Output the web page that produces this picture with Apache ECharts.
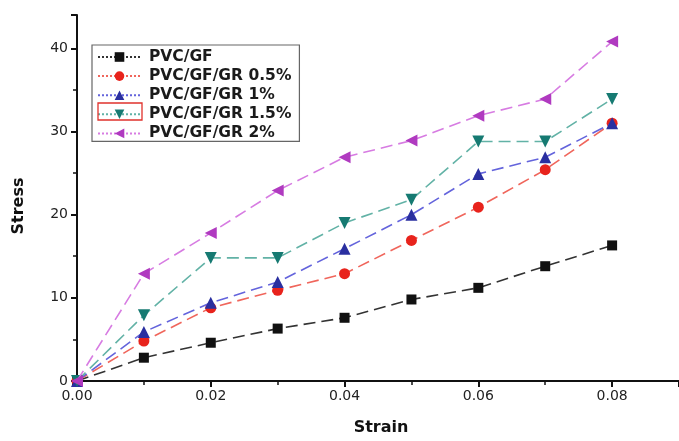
<!DOCTYPE html>
<html>
<head>
<meta charset="utf-8">
<script src="https://cdn.jsdelivr.net/npm/echarts@6/dist/echarts.min.js"></script>
<style>
  html, body { margin: 0; padding: 0; background: #fff; }
  #chart { width: 679px; height: 441px; }
</style>
</head>
<body>
<div id="chart"></div>
<script>
// Strain values (x) shared by every sample
const strain = [0, 0.01, 0.02, 0.03, 0.04, 0.05, 0.06, 0.07, 0.08];

// Stress readings per composite
const pvcGF      = [0, 2.8, 4.6, 6.3, 7.6, 9.8, 11.2, 13.8, 16.3];
const pvcGR05    = [0, 4.8, 8.8, 10.9, 12.9, 16.9, 20.9, 25.4, 31.0];
const pvcGR1     = [0, 5.9, 9.4, 11.9, 15.9, 20.0, 24.9, 26.9, 31.0];
const pvcGR15    = [0, 7.9, 14.8, 14.8, 19.0, 21.8, 28.8, 28.8, 33.9];
const pvcGR2     = [0, 12.9, 17.8, 22.9, 26.9, 28.9, 31.9, 33.9, 40.8];

const seriesNames = ['PVC/GF', 'PVC/GF/GR 0.5%', 'PVC/GF/GR 1%', 'PVC/GF/GR 1.5%', 'PVC/GF/GR 2%'];
const seriesData = [pvcGF, pvcGR05, pvcGR1, pvcGR15, pvcGR2];

const looks = [
  { mark: '#111111', line: '#333333', symbol: 'rect', size: 10, rotate: 0 },
  { mark: '#e8231c', line: '#f0665c', symbol: 'circle', size: 11, rotate: 0 },
  { mark: '#2a2fa0', line: '#6464dc', symbol: 'triangle', size: 12, rotate: 0 },
  { mark: '#167a72', line: '#62b2a6', symbol: 'triangle', size: 12, rotate: 180 },
  { mark: '#b03ac0', line: '#d77ce2', symbol: 'triangle', size: 12, rotate: 90 }
];

const pair = (ys) => strain.map((x, i) => [x, ys[i]]);

const chart = echarts.init(document.getElementById('chart'), null, { renderer: 'canvas' });

const axisFont = { fontFamily: 'DejaVu Sans', fontSize: 14, color: '#222' };
const titleFont = { fontFamily: 'DejaVu Sans', fontSize: 16, fontWeight: 'bold', color: '#111' };

chart.setOption({
  animation: false,
  backgroundColor: '#ffffff',
  grid: { left: 77, right: -5, top: 15, bottom: 60, containLabel: false },
  xAxis: {
    type: 'value',
    min: 0, max: 0.09, interval: 0.02,
    name: 'Strain', nameLocation: 'middle', nameGap: 39,
    nameTextStyle: Object.assign({ padding: [0, 0, 0, 6] }, titleFont),
    axisLine: { show: true, onZero: false, lineStyle: { color: '#111', width: 2 } },
    axisTick: { show: true, inside: false, length: 6, lineStyle: { color: '#111', width: 2 } },
    minorTick: { show: true, splitNumber: 2, length: 4, lineStyle: { color: '#111', width: 1.5 } },
    splitLine: { show: false },
    axisLabel: Object.assign({ margin: 8, showMaxLabel: false, formatter: v => v.toFixed(2) }, axisFont)
  },
  yAxis: {
    type: 'value',
    min: 0, max: 44, interval: 10,
    name: 'Stress', nameLocation: 'middle', nameGap: 50, nameRotate: 90,
    nameTextStyle: Object.assign({ padding: [0, 16, 0, 0] }, titleFont),
    axisLine: { show: true, onZero: false, lineStyle: { color: '#111', width: 2 } },
    axisTick: { show: true, inside: false, length: 6, lineStyle: { color: '#111', width: 2 } },
    minorTick: { show: true, splitNumber: 2, length: 4, lineStyle: { color: '#111', width: 1.5 } },
    splitLine: { show: false },
    axisLabel: Object.assign({ margin: 9, showMaxLabel: false }, axisFont)
  },
  legend: {
    orient: 'vertical',
    left: 92, top: 45,
    padding: [4, 8, 0, 5],
    itemWidth: 43, itemHeight: 12, itemGap: 3.1,
    borderColor: '#666', borderWidth: 1.2,
    backgroundColor: '#fff',
    lineStyle: { type: 'dotted', width: 2 },
    textStyle: { fontFamily: 'DejaVu Sans', fontSize: 15.5, fontWeight: 'bold', color: '#1a1a1a', padding: [0, 0, 0, 3] },
    data: seriesNames
  },
  series: seriesNames.map((name, i) => ({
    name: name,
    type: 'line',
    data: pair(seriesData[i]),
    symbol: looks[i].symbol,
    symbolSize: looks[i].size,
    symbolRotate: looks[i].rotate,
    showAllSymbol: true,
    itemStyle: { color: looks[i].mark },
    lineStyle: { color: looks[i].line, width: 1.6, type: [12, 6] },
    z: 2 + i
  })),
  graphic: [{
    type: 'rect',
    shape: { x: 98, y: 103, width: 44, height: 17 },
    style: { fill: 'none', stroke: '#e0322c', lineWidth: 1.3 },
    z: 100
  }]
});
</script>
</body>
</html>
